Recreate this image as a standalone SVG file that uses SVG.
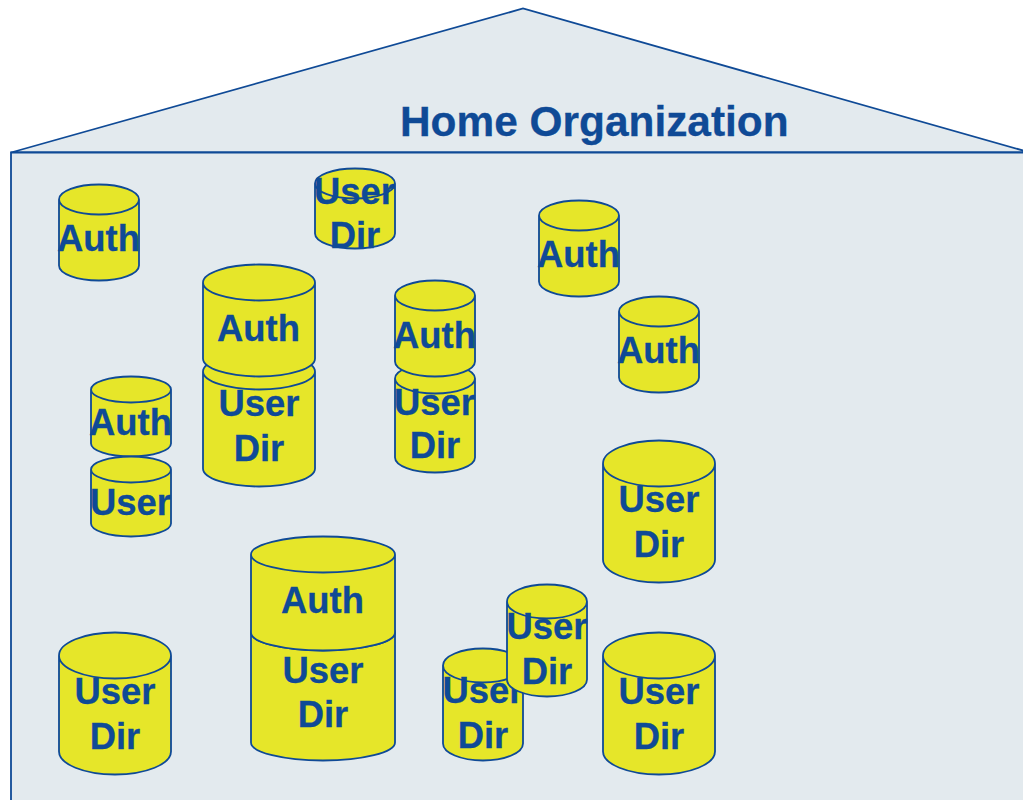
<svg xmlns="http://www.w3.org/2000/svg" width="1023" height="800" viewBox="0 0 1023 800">
<defs>
<style>
.house{fill:#e3eaee;stroke:#0f4a96;stroke-width:1.8}
.c{fill:#e6e629;stroke:#0f4a96;stroke-width:1.8}
.t{font-family:"Liberation Sans",Arial,sans-serif;font-weight:700;font-size:36.4px;fill:#0f4a96;stroke:#0f4a96;stroke-width:.3;text-anchor:middle;transform:translateY(-1px)}
.title{font-family:"Liberation Sans",Arial,sans-serif;font-weight:700;font-size:42.4px;fill:#0f4a96;stroke:#0f4a96;stroke-width:.3}
</style>
</defs>
<rect width="1023" height="800" fill="#fff"/>
<g id="house" transform="translate(0 .5)">
<path class="house" d="M11 152 L523 8 L1030 152 Z"/>
<path class="house" d="M11 810 V152 H1030 V810 Z"/>
<text class="title" x="400" y="135.500">Home Organization</text>
</g>
<g id="connectors"/>
<g id="nodes" transform="translate(0 .5)">
<g id="auth-1">
<path class="c" d="M59 199 V265 A40 15 0 0 0 139 265 V199 A40 15 0 0 0 59 199 A40 15 0 0 0 139 199"/>
<text class="t" x="98.500" y="251">Auth</text>
</g>
<g id="userdir-1">
<path class="c" d="M315 183 V233 A40 15 0 0 0 395 233 V183 A40 15 0 0 0 315 183 A40 15 0 0 0 395 183"/>
<text class="t" x="354.500" y="204">User</text>
<text class="t" x="355" y="248">Dir</text>
</g>
<g id="auth-2">
<path class="c" d="M539 215 V281 A40 15 0 0 0 619 281 V215 A40 15 0 0 0 539 215 A40 15 0 0 0 619 215"/>
<text class="t" x="578.500" y="267">Auth</text>
</g>
<g id="auth-3">
<path class="c" d="M619 311 V377 A40 15 0 0 0 699 377 V311 A40 15 0 0 0 619 311 A40 15 0 0 0 699 311"/>
<text class="t" x="658.500" y="363">Auth</text>
</g>
<g id="userdir-2">
<path class="c" d="M203 371 V468 A56 18 0 0 0 315 468 V371 A56 18 0 0 0 203 371 A56 18 0 0 0 315 371"/>
<text class="t" x="259" y="416">User</text>
<text class="t" x="259" y="461">Dir</text>
</g>
<g id="auth-4">
<path class="c" d="M203 282 V358 A56 18 0 0 0 315 358 V282 A56 18 0 0 0 203 282 A56 18 0 0 0 315 282"/>
<text class="t" x="258.500" y="341">Auth</text>
</g>
<g id="userdir-3">
<path class="c" d="M395 378 V457 A40 15 0 0 0 475 457 V378 A40 15 0 0 0 395 378 A40 15 0 0 0 475 378"/>
<text class="t" x="434.500" y="415">User</text>
<text class="t" x="435" y="458">Dir</text>
</g>
<g id="auth-5">
<path class="c" d="M395 295 V361 A40 15 0 0 0 475 361 V295 A40 15 0 0 0 395 295 A40 15 0 0 0 475 295"/>
<text class="t" x="434.500" y="348">Auth</text>
</g>
<g id="auth-6">
<path class="c" d="M91 389 V443 A40 13 0 0 0 171 443 V389 A40 13 0 0 0 91 389 A40 13 0 0 0 171 389"/>
<text class="t" x="130.500" y="435">Auth</text>
</g>
<g id="user-1">
<path class="c" d="M91 469 V523 A40 13 0 0 0 171 523 V469 A40 13 0 0 0 91 469 A40 13 0 0 0 171 469"/>
<text class="t" x="130.500" y="515">User</text>
</g>
<g id="userdir-4">
<path class="c" d="M603 463 V559 A56 23 0 0 0 715 559 V463 A56 23 0 0 0 603 463 A56 23 0 0 0 715 463"/>
<text class="t" x="659" y="512">User</text>
<text class="t" x="659" y="557">Dir</text>
</g>
<g id="userdir-5">
<path class="c" d="M251 632 V742 A72 18 0 0 0 395 742 V632 A72 18 0 0 0 251 632 A72 18 0 0 0 395 632"/>
<text class="t" x="323" y="683">User</text>
<text class="t" x="323" y="727">Dir</text>
</g>
<g id="auth-7">
<path class="c" d="M251 554 V632 A72 18 0 0 0 395 632 V554 A72 18 0 0 0 251 554 A72 18 0 0 0 395 554"/>
<text class="t" x="322.500" y="613">Auth</text>
</g>
<g id="userdir-6">
<path class="c" d="M59 655 V751 A56 23 0 0 0 171 751 V655 A56 23 0 0 0 59 655 A56 23 0 0 0 171 655"/>
<text class="t" x="115" y="704">User</text>
<text class="t" x="115" y="749">Dir</text>
</g>
<g id="userdir-7">
<path class="c" d="M443 665 V743 A40 17 0 0 0 523 743 V665 A40 17 0 0 0 443 665 A40 17 0 0 0 523 665"/>
<text class="t" x="483" y="703">User</text>
<text class="t" x="483" y="748">Dir</text>
</g>
<g id="userdir-8">
<path class="c" d="M507 601 V679 A40 17 0 0 0 587 679 V601 A40 17 0 0 0 507 601 A40 17 0 0 0 587 601"/>
<text class="t" x="547" y="639">User</text>
<text class="t" x="547" y="684">Dir</text>
</g>
<g id="userdir-9">
<path class="c" d="M603 655 V751 A56 23 0 0 0 715 751 V655 A56 23 0 0 0 603 655 A56 23 0 0 0 715 655"/>
<text class="t" x="659" y="704">User</text>
<text class="t" x="659" y="749">Dir</text>
</g>
</g>
</svg>
